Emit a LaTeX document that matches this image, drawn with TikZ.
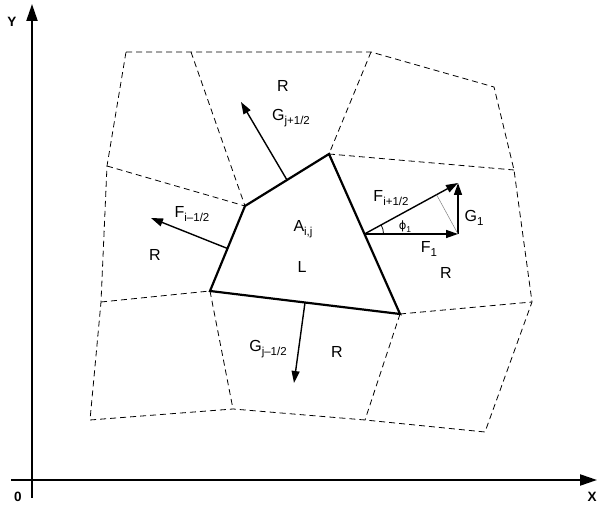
\documentclass[tikz,border=0pt]{standalone}
\usepackage{fontspec}
\setmainfont{Liberation Sans}
\newfontfamily\greekfont{DejaVu Sans}
\usetikzlibrary{calc,angles,arrows.meta}
\newcommand\lowidx[1]{\raisebox{-0.45ex}{\fontsize{11.5}{13}\selectfont #1}}
\tikzset{
cell/.style={line width=0.8pt, dash pattern=on 6pt off 4pt},
face/.style={line width=2.2pt},
flux/.style={line width=1.4pt, -{Triangle[length=12pt,width=8pt]}},
axis/.style={line width=2.2pt, -{Triangle[length=17pt,width=11pt]}},
lbl/.style={inner sep=0pt, font=\fontsize{16}{18}\selectfont},
axlbl/.style={inner sep=0pt, font=\fontsize{13.5}{15}\selectfont\bfseries},
}
\begin{document}
\begin{tikzpicture}[x=1pt,y=1pt]
\useasboundingbox (0,0) rectangle (600,510);
% axes
\coordinate (Ybot) at (32,12);
\coordinate (Ytip) at (32,506);
\coordinate (Xleft) at (11,30);
\coordinate (Xtip) at (597,30);
\draw[axis] (Ybot) -- (Ytip);
\draw[axis] (Xleft) -- (Xtip);
\node[axlbl] (ylab) at (12,488) {Y};
\node[axlbl] (zero) at (18,13) {0};
\node[axlbl] (xlab) at (592,13) {X};

% grid points
\coordinate (t1) at (126,458);
\coordinate (t2) at (191,458);
\coordinate (t3) at (371,458);
\coordinate (t4) at (494,423);
\coordinate (m1) at (107,344);
\coordinate (m4) at (514,340);
\coordinate (n1) at (101,208);
\coordinate (n4) at (532,208);
\coordinate (b1) at (90,90);
\coordinate (b2) at (233,101);
\coordinate (b3) at (365,90);
\coordinate (b4) at (485,78);
% cell corners
\coordinate (A) at (245,304);
\coordinate (B) at (329,356);
\coordinate (C) at (400,196);
\coordinate (D) at (210,219);

\draw[cell] (t1) -- (t2) -- (t3) -- (t4) -- (m4) -- (n4) -- (b4) -- (b3) -- (b2) -- (b1) -- (n1) -- (m1) -- cycle;
\draw[cell] (t2) -- (A);
\draw[cell] (t3) -- (B);
\draw[cell] (m1) -- (A);
\draw[cell] (B) -- (m4);
\draw[cell] (n1) -- (D);
\draw[cell] (C) -- (n4);
\draw[cell] (D) -- (b2);
\draw[cell] (C) -- (b3);
\draw[face] (A) -- (B) -- (C) -- (D) -- cycle;

% fluxes
\coordinate (Mab) at ($(A)!0.5!(B)$);
\coordinate (Mad) at ($(A)!0.5!(D)$);
\coordinate (Mdc) at ($(D)!0.5!(C)$);
\coordinate (Mbc) at ($(B)!0.5!(C)$);
\coordinate (Gjp) at (241,408);
\coordinate (Fim) at (151,292);
\coordinate (Gjm) at (294,127);
\coordinate (Fip) at (458,327);
\coordinate (F1end) at (458,276);
\coordinate (Proj) at ($(Mbc)!(F1end)!(Fip)$);
\draw[flux] (Mab) -- (Gjp);
\draw[flux] (Mad) -- (Fim);
\draw[flux] (Mdc) -- (Gjm);
\draw[flux] (Mbc) -- (Fip);
\draw[flux] (Mbc) -- (F1end);
\draw[flux] (F1end) -- (Fip);
\draw[gray, line width=0.5pt] (Proj) -- (F1end);
\pic[draw, line width=0.8pt, angle radius=19pt] {angle = F1end--Mbc--Fip};

% labels
\node[lbl] (Rtop) at (283,424) {R};
\node[lbl] (Rleft) at (155,255) {R};
\node[lbl] (Rright) at (446,237) {R};
\node[lbl] (Rbot) at (337,158) {R};
\node[lbl] (Aij) at (303,281) {A\lowidx{i,j}};
\node[lbl] (L) at (302,243) {L};
\node[lbl] (GjpLbl) at (291,392) {G\lowidx{j+1/2}};
\node[lbl] (FimLbl) at (192,296) {F\lowidx{i–1/2}};
\node[lbl] (GjmLbl) at (268,161) {G\lowidx{j–1/2}};
\node[lbl] (FipLbl) at (391,312) {F\lowidx{i+1/2}};
\node[lbl] (G1Lbl) at (474,292) {G\lowidx{1}};
\node[lbl] (F1Lbl) at (429,261) {F\lowidx{1}};
\node[inner sep=0pt, font=\fontsize{11.5}{13}\selectfont] (phiLbl) at (405,283) {{\greekfont ϕ}\lowidx{\fontsize{8.5}{9}\selectfont 1}};
\end{tikzpicture}
\end{document}
